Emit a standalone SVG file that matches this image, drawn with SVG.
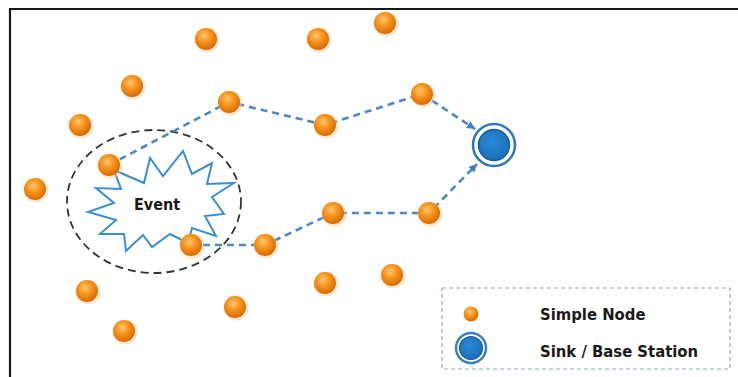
<svg xmlns="http://www.w3.org/2000/svg" width="738" height="377" viewBox="0 0 738 377">
<defs>
<radialGradient id="og" cx="0.42" cy="0.35" r="0.65">
<stop offset="0" stop-color="#ffc76e"/>
<stop offset="0.45" stop-color="#f8961e"/>
<stop offset="1" stop-color="#d56a05"/>
</radialGradient>
<radialGradient id="bg" cx="0.45" cy="0.4" r="0.65">
<stop offset="0" stop-color="#2a8ad8"/>
<stop offset="1" stop-color="#1b6db5"/>
</radialGradient>
<marker id="ah" markerUnits="userSpaceOnUse" markerWidth="10" markerHeight="10" refX="8" refY="4" orient="auto">
<path d="M0,0 L8,4 L0,8 Z" fill="#3d7fbd"/>
</marker>
<style>
.n{fill:url(#og);}
.sh{fill:#f3c79a;opacity:0.45;}
.c{fill:none;stroke:#4a89c2;stroke-width:2.6;stroke-dasharray:7 5;}
.t{font-family:"DejaVu Sans Condensed","DejaVu Sans",sans-serif;font-weight:bold;fill:#1a1a1a;}
</style>
</defs>
<rect x="0" y="0" width="738" height="377" fill="#ffffff"/>
<path d="M10,377 L10,9 L738,9" fill="none" stroke="#1a1a1a" stroke-width="2.2"/>

<g id="event-area">
<ellipse cx="154" cy="201.5" rx="87" ry="71.5" fill="none" stroke="#333333" stroke-width="1.8" stroke-dasharray="8 5"/>
</g>
<g id="event">
<polygon points="114,170 144,183 150,158 163,176 183,151 192,174 212,163 207,184 234,183 212,197 224,214 205,216 216,236 192,228 188,243 170,234 152,247 143,235 126,251 124,234 100,234 116,220 88,212 114,203 96,188 121,189" fill="#ffffff" stroke="#3b8fd0" stroke-width="2" stroke-linejoin="miter"/>
<text class="t" x="157" y="210" font-size="16" text-anchor="middle">Event</text>
</g>

<g id="connectors">
<polyline class="c" points="109,165 229,102 325,125 422,94 475,129" marker-end="url(#ah)"/>
<polyline class="c" points="191,245 265,245 333,213 429,213 477,164" marker-end="url(#ah)"/>
</g>

<g id="n1"><circle class="sh" cx="207" cy="40" r="12.5"/><circle class="n" cx="206" cy="39" r="11"/></g>
<g id="n2"><circle class="sh" cx="319" cy="40" r="12.5"/><circle class="n" cx="318" cy="39" r="11"/></g>
<g id="n3"><circle class="sh" cx="386" cy="24" r="12.5"/><circle class="n" cx="385" cy="23" r="11"/></g>
<g id="n4"><circle class="sh" cx="133" cy="87" r="12.5"/><circle class="n" cx="132" cy="86" r="11"/></g>
<g id="n5"><circle class="sh" cx="230" cy="103" r="12.5"/><circle class="n" cx="229" cy="102" r="11"/></g>
<g id="n6"><circle class="sh" cx="423" cy="95" r="12.5"/><circle class="n" cx="422" cy="94" r="11"/></g>
<g id="n7"><circle class="sh" cx="81" cy="126" r="12.5"/><circle class="n" cx="80" cy="125" r="11"/></g>
<g id="n8"><circle class="sh" cx="326" cy="126" r="12.5"/><circle class="n" cx="325" cy="125" r="11"/></g>
<g id="n9"><circle class="sh" cx="110" cy="166" r="12.5"/><circle class="n" cx="109" cy="165" r="11"/></g>
<g id="n10"><circle class="sh" cx="36" cy="190" r="12.5"/><circle class="n" cx="35" cy="189" r="11"/></g>
<g id="n11"><circle class="sh" cx="334" cy="214" r="12.5"/><circle class="n" cx="333" cy="213" r="11"/></g>
<g id="n12"><circle class="sh" cx="430" cy="214" r="12.5"/><circle class="n" cx="429" cy="213" r="11"/></g>
<g id="n13"><circle class="sh" cx="192" cy="246" r="12.5"/><circle class="n" cx="191" cy="245" r="11"/></g>
<g id="n14"><circle class="sh" cx="266" cy="246" r="12.5"/><circle class="n" cx="265" cy="245" r="11"/></g>
<g id="n15"><circle class="sh" cx="88" cy="292" r="12.5"/><circle class="n" cx="87" cy="291" r="11"/></g>
<g id="n16"><circle class="sh" cx="326" cy="284" r="12.5"/><circle class="n" cx="325" cy="283" r="11"/></g>
<g id="n17"><circle class="sh" cx="393" cy="276" r="12.5"/><circle class="n" cx="392" cy="275" r="11"/></g>
<g id="n18"><circle class="sh" cx="236" cy="308" r="12.5"/><circle class="n" cx="235" cy="307" r="11"/></g>
<g id="n19"><circle class="sh" cx="125" cy="332" r="12.5"/><circle class="n" cx="124" cy="331" r="11"/></g>

<g id="sink">
<circle cx="494" cy="145" r="21" fill="#ffffff" stroke="#2f78b8" stroke-width="2.5"/>
<circle cx="494" cy="145" r="15.5" fill="url(#bg)" stroke="#1a5d98" stroke-width="1.5"/>
</g>

<g id="legend">
<rect x="442" y="288" width="288" height="81" fill="#ffffff" stroke="#8ea5bd" stroke-width="1.2" stroke-dasharray="4 3"/>
<circle class="n" cx="471" cy="314" r="7.5"/>
<circle cx="471" cy="348" r="15" fill="#ffffff" stroke="#3a80bf" stroke-width="2.5"/>
<circle cx="471" cy="348" r="11.5" fill="url(#bg)" stroke="#1a5d98" stroke-width="1.2"/>
<text class="t" x="540" y="320" font-size="16.5">Simple Node</text>
<text class="t" x="540" y="357" font-size="16.5">Sink / Base Station</text>
</g>
</svg>
